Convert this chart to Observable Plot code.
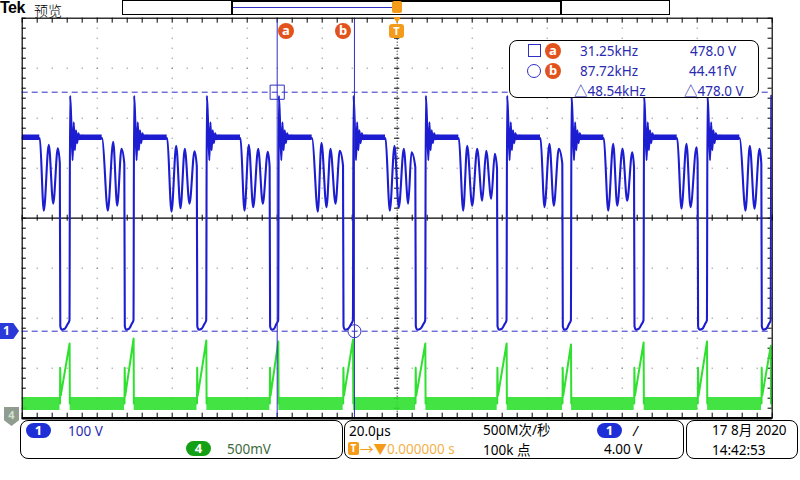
<!DOCTYPE html>
<html><head><meta charset="utf-8">
<script src="https://cdn.jsdelivr.net/npm/d3@7"></script>
<script src="https://cdn.jsdelivr.net/npm/@observablehq/plot@0.6"></script>
<style>
body{margin:0;background:#fff;font-family:"Noto Sans","Noto Sans CJK SC","DejaVu Sans",sans-serif;}
#wrap{position:relative;width:800px;height:480px;overflow:hidden;background:#fff;}
#wrap svg{position:absolute;left:0;top:0;}
.ov{position:absolute;white-space:nowrap;line-height:16px;}
.box{position:absolute;border:1px solid #000;border-radius:8px;background:#fff;box-sizing:border-box;}
.pill{position:absolute;height:15px;width:25px;border-radius:8px;color:#fff;font-weight:bold;font-size:13px;text-align:center;line-height:15px;}
.t13{font-size:13.5px;}
.circ{position:absolute;width:16px;height:16px;border-radius:50%;background:#e2521c;color:#fff;font-weight:bold;font-size:13px;text-align:center;line-height:15px;}
</style>
</head><body>
<div id="wrap"></div>
<script>
// ---------- data (time in µs, ch1 in V, ch4 in V) ----------
const timePerDiv = 20;          // 20.0 µs/div
const ch1VoltsPerDiv = 100;     // 100 V/div
const ch4VoltsPerDiv = 0.5;     // 500 mV/div
const ch1GroundDiv = -2.26;
const ch4GroundDiv = -3.95;

// rising edges (switch turn-off spikes) of ch1
const riseT = [-87.31, -70.24, -50.85, -31.65, -11.73, 7.55, 29.23, 46.40, 65.76, 82.67, 99.68];
// end of the flat plateau (start of valley ringing)
const plateauEndT = [-95.31, -78.67, -61.33, -41.79, -22.67, -3.12, 16.43, 38.21, 55.09, 74.67, 91.36];
// falling edges of ch1 (switch turn-on)
const fallT = [-89.92, -72.72, -53.39, -33.97, -14.40, 4.88, 26.67, 44.08, 63.20, 80.16, 97.15];
// ringing extrema per cycle
const ringT = [
  [-94.24, -92.91, -91.73, -90.51],
  [-77.17, -75.73, -74.67, -73.52],
  [-60.19, -58.93, -57.79, -56.64, -55.39, -54.05],
  [-40.72, -39.57, -38.40, -37.07, -35.84, -34.51],
  [-21.17, -20.19, -18.85, -17.79, -16.45, -15.31],
  [-1.97, -0.72, 0.43, 1.76, 2.93, 3.81],
  [17.60, 18.67, 20.00, 21.33, 22.67, 23.73, 25.07, 26.03],
  [39.28, 40.61, 41.76, 43.09],
  [56.27, 57.60, 58.67, 60.08, 61.33, 62.67],
  [75.81, 77.15, 78.21, 79.81],
  [92.88, 94.03, 95.28, 96.61]
];
const ringV = [
  [241, 373, 255, 366],
  [241, 379, 251, 365],
  [239, 371, 246, 365, 255, 360],
  [241, 373, 248, 365, 255, 359],
  [239, 377, 248, 365, 255, 361],
  [241, 371, 248, 365, 255, 358],
  [241, 371, 251, 365, 261, 361, 265, 355],
  [248, 375, 251, 365],
  [241, 375, 251, 365, 261, 358],
  [245, 375, 248, 368],
  [241, 371, 245, 365]
];
const plateauV = 388;
// spike after each rising edge: time after edge (µs) and level (V)
const spikeDt = [0.08, 0.35, 0.75, 1.05, 1.35, 1.65, 1.95, 2.3, 2.7, 3.1];
const spikeV  = [471, 430, 342, 418, 362, 402, 376, 396, 384, 391];
// low (switch on) segment levels
const lowV = [10, 3, 5, 14, 22];

// ch4 current-sense ramps
const ch4BaseV = 0.122;
const ch4LeadV = 0.48;
const ch4StartV = 0.20;
const ch4PeakV = [0.722, 0.772, 0.752, 0.742, 0.762, 0.722, 0.722, 0.712, 0.732, 0.742, 0.70];

// cursors
const cursorA = {t: -32.0, v: 478.0};
const cursorB = {t: -11.4, v: 0};

// ---------- build traces ----------
const d1 = v => v / ch1VoltsPerDiv + ch1GroundDiv;
const d4 = v => v / ch4VoltsPerDiv + ch4GroundDiv;

const ch1 = [];
for (let i = 0; i < fallT.length; i++) {
  if (i === 0) ch1.push({t: -100, v: plateauV});
  else spikeDt.forEach((dt, k) => ch1.push({t: riseT[i-1] + dt, v: spikeV[k]}));
  ch1.push({t: plateauEndT[i], v: plateauV - 2});
  ringT[i].forEach((t, k) => ch1.push({t, v: ringV[i][k]}));
  const f = fallT[i], r = riseT[i];
  ch1.push({t: f - 0.05, v: ringV[i][ringV[i].length-1] - 30});
  ch1.push({t: f + 0.08, v: lowV[0]});
  ch1.push({t: f + 0.5, v: lowV[1]});
  ch1.push({t: (f + r) / 2, v: lowV[2]});
  ch1.push({t: r - 0.6, v: lowV[3]});
  ch1.push({t: r - 0.08, v: lowV[4]});
}
ch1.push({t: riseT[riseT.length-1] + spikeDt[0], v: spikeV[0]});

const plateaus = [{x1: -100, x2: plateauEndT[0]}];
for (let i = 1; i < plateauEndT.length; i++) plateaus.push({x1: riseT[i-1] + 2.2, x2: plateauEndT[i]});

const ch4 = [];
fallT.forEach((f, i) => {
  const r = riseT[i];
  ch4.push({t: f, v: ch4BaseV, z: i});
  ch4.push({t: f + 0.05, v: ch4LeadV, z: i});
  ch4.push({t: f + 0.2, v: ch4StartV, z: i});
  ch4.push({t: r - 0.05, v: ch4PeakV[i], z: i});
  ch4.push({t: r + 0.02, v: ch4BaseV, z: i});
});
const ch4Base = [{x1: -100, x2: fallT[0]}];
for (let i = 1; i < fallT.length; i++) ch4Base.push({x1: riseT[i-1] + 0.1, x2: fallT[i]});
ch4Base.push({x1: riseT[riseT.length-1] + 0.1, x2: 100});

// ---------- grid ----------
const gridX = d3.range(-80, 81, 20).filter(d => d !== 0);
const gridY = d3.range(-3, 4, 1).filter(d => d !== 0);
const minorX = d3.range(-100, 100.01, 4);
const minorY = d3.range(-4, 4.001, 0.2);

const BLUE = "#1c1cd0", CUR = "#2f2fc4", GREEN = "#2fe02f";

const svg = Plot.plot({
  width: 800, height: 480,
  marginLeft: 21.7, marginRight: 28.3, marginTop: 17.7, marginBottom: 62.3,
  x: {domain: [-100, 100], axis: null},
  y: {domain: [-4, 4], axis: null},
  style: {background: "transparent", overflow: "visible"},
  marks: [
    Plot.ruleX(gridX, {stroke: "#666", strokeDasharray: "1,9"}),
    Plot.ruleY(gridY, {stroke: "#666", strokeDasharray: "1,14"}),
    Plot.ruleY([0], {stroke: "#000", strokeWidth: 1.2}),
    Plot.ruleX([0], {stroke: "#000", strokeDasharray: "1,2"}),
    Plot.ruleX(minorX, {y1: -0.06, y2: 0.06, stroke: "#000"}),
    Plot.ruleY(minorY, {x1: -0.7, x2: 0.7, stroke: "#000"}),
    Plot.ruleX(minorX, {y1: 4, y2: 3.9, stroke: "#000"}),
    Plot.ruleX(minorX, {y1: -4, y2: -3.9, stroke: "#000"}),
    Plot.ruleY(minorY, {x1: -100, x2: -98.9, stroke: "#000"}),
    Plot.ruleY(minorY, {x1: 100, x2: 98.9, stroke: "#000"}),
    // ch4 trace
    Plot.ruleY(ch4Base, {x1: "x1", x2: "x2", y: () => d4(ch4BaseV), stroke: GREEN, strokeWidth: 13, strokeOpacity: 0.9, clip: true}),
    Plot.line(ch4, {x: "t", y: d => d4(d.v), z: "z", stroke: GREEN, strokeWidth: 2, clip: true}),
    // ch1 trace
    Plot.ruleY(plateaus, {x1: "x1", x2: "x2", y: () => d1(plateauV), stroke: BLUE, strokeWidth: 5.5, clip: true}),
    Plot.line(ch1, {x: "t", y: d => d1(d.v), curve: "monotone-x", stroke: BLUE, strokeWidth: 2.1, clip: true}),
    // cursors
    Plot.ruleY([cursorA.v, cursorB.v], {y: d => d1(d), stroke: CUR, strokeDasharray: "6,4", strokeWidth: 1}),
    Plot.ruleX([cursorA.t, cursorB.t], {stroke: CUR, strokeWidth: 1}),
    Plot.dot([cursorA], {x: "t", y: d => d1(d.v), symbol: "square", r: 8, stroke: CUR, fill: "none", strokeWidth: 1}),
    Plot.dot([cursorB], {x: "t", y: d => d1(d.v), r: 6.5, stroke: CUR, fill: "none", strokeWidth: 1}),
    Plot.frame({stroke: "#000", strokeWidth: 1.2}),
    Plot.ruleY([-4], {stroke: "#000", strokeWidth: 2.5})
  ]
});
const wrap = document.getElementById("wrap");
wrap.appendChild(svg);

const html = `
<div class="ov" style="left:0;top:0;font-family:'Liberation Sans',sans-serif;font-weight:bold;font-size:16px;letter-spacing:-0.5px;">Tek</div>
<div class="ov" style="left:34px;top:0;font-family:'Noto Sans CJK SC';font-weight:300;font-size:14px;line-height:normal;">预览</div>
<div style="position:absolute;left:122px;top:0;width:548px;height:15px;border:1px solid #000;box-sizing:border-box;"></div>
<div style="position:absolute;left:231px;top:0;width:331px;height:15px;border:2px solid #000;border-bottom:1px solid #000;box-sizing:border-box;"></div>
<div style="position:absolute;left:233px;top:7px;width:160px;height:1px;background:#2f2fc4;"></div>
<div style="position:absolute;left:392px;top:1px;width:10px;height:12px;background:#f59b1a;border-radius:2px;"></div>
<div style="position:absolute;left:393px;top:17px;width:0;height:0;border-left:4px solid transparent;border-right:4px solid transparent;border-top:6px solid #f59b1a;"></div>
<div style="position:absolute;left:389px;top:24px;width:15px;height:14px;background:#f59b1a;border-radius:3px;color:#fff;font-size:11px;font-weight:bold;text-align:center;line-height:14px;">T</div>
<div class="circ" style="left:278px;top:23px;">a</div>
<div class="circ" style="left:335px;top:23px;">b</div>

<div class="box" style="left:509px;top:40px;width:250px;height:58px;"></div>
<div style="position:absolute;left:528px;top:44px;width:13px;height:13px;border:1px solid #2f2fc4;box-sizing:border-box;"></div>
<div class="circ" style="left:545px;top:43px;">a</div>
<div class="ov t13" style="left:580px;top:43px;color:#2a2ab0;">31.25kHz</div>
<div class="ov t13" style="left:690px;top:43px;color:#2a2ab0;">478.0 V</div>
<div style="position:absolute;left:527px;top:64px;width:14px;height:14px;border:1px solid #2f2fc4;border-radius:50%;box-sizing:border-box;"></div>
<div class="circ" style="left:545px;top:63px;">b</div>
<div class="ov t13" style="left:580px;top:63px;color:#2a2ab0;">87.72kHz</div>
<div class="ov t13" style="left:689px;top:63px;color:#2a2ab0;">44.41fV</div>
<div class="ov t13" style="left:574px;top:83px;color:#2a2ab0;">△48.54kHz</div>
<div class="ov t13" style="left:684px;top:83px;color:#2a2ab0;">△478.0 V</div>

<div style="position:absolute;left:0;top:323px;width:19px;height:16px;background:#2a3ad8;clip-path:polygon(0 0,70% 0,100% 50%,70% 100%,0 100%);color:#fff;font-size:12px;font-weight:bold;line-height:16px;padding-left:3px;box-sizing:border-box;">1</div>
<div style="position:absolute;left:4px;top:407px;width:15px;height:19px;background:#8f9c8f;clip-path:polygon(0 0,100% 0,100% 70%,50% 100%,0 70%);color:#cfe0cf;font-size:11px;font-weight:bold;line-height:15px;text-align:center;">4</div>

<div class="box" style="left:20px;top:420px;width:323px;height:39px;"></div>
<div class="pill" style="left:26px;top:423px;background:#1f2fd8;">1</div>
<div class="ov t13" style="left:68px;top:423px;color:#2a2ab0;">100 V</div>
<div class="pill" style="left:186px;top:441px;background:#14a014;">4</div>
<div class="ov t13" style="left:227px;top:441px;color:#3d6b3d;">500mV</div>

<div class="box" style="left:344px;top:420px;width:340px;height:39px;"></div>
<div class="ov t13" style="left:349px;top:423px;color:#000;">20.0µs</div>
<div style="position:absolute;left:348px;top:442px;width:11px;height:13px;background:#f59b1a;border-radius:2px;color:#fff;font-size:10px;font-weight:bold;text-align:center;line-height:13px;">T</div>
<div class="ov t13" style="left:360px;top:441px;color:#f59b1a;">→▼<span style="color:#f5b14a">0.000000 s</span></div>
<div class="ov t13" style="left:483px;top:422px;color:#000;">500M次/秒</div>
<div class="ov t13" style="left:483px;top:442px;color:#000;">100k 点</div>
<div class="pill" style="left:597px;top:423px;background:#1f2fd8;">1</div>
<div class="ov t13" style="left:633px;top:423px;color:#000;font-style:italic;">/</div>
<div class="ov t13" style="left:604px;top:441px;color:#000;">4.00 V</div>

<div class="box" style="left:686px;top:420px;width:112px;height:39px;"></div>
<div class="ov t13" style="left:712px;top:422px;color:#000;">17 8月 2020</div>
<div class="ov t13" style="left:712px;top:442px;color:#000;">14:42:53</div>
`;
wrap.insertAdjacentHTML("beforeend", html);
</script>
</body></html>
